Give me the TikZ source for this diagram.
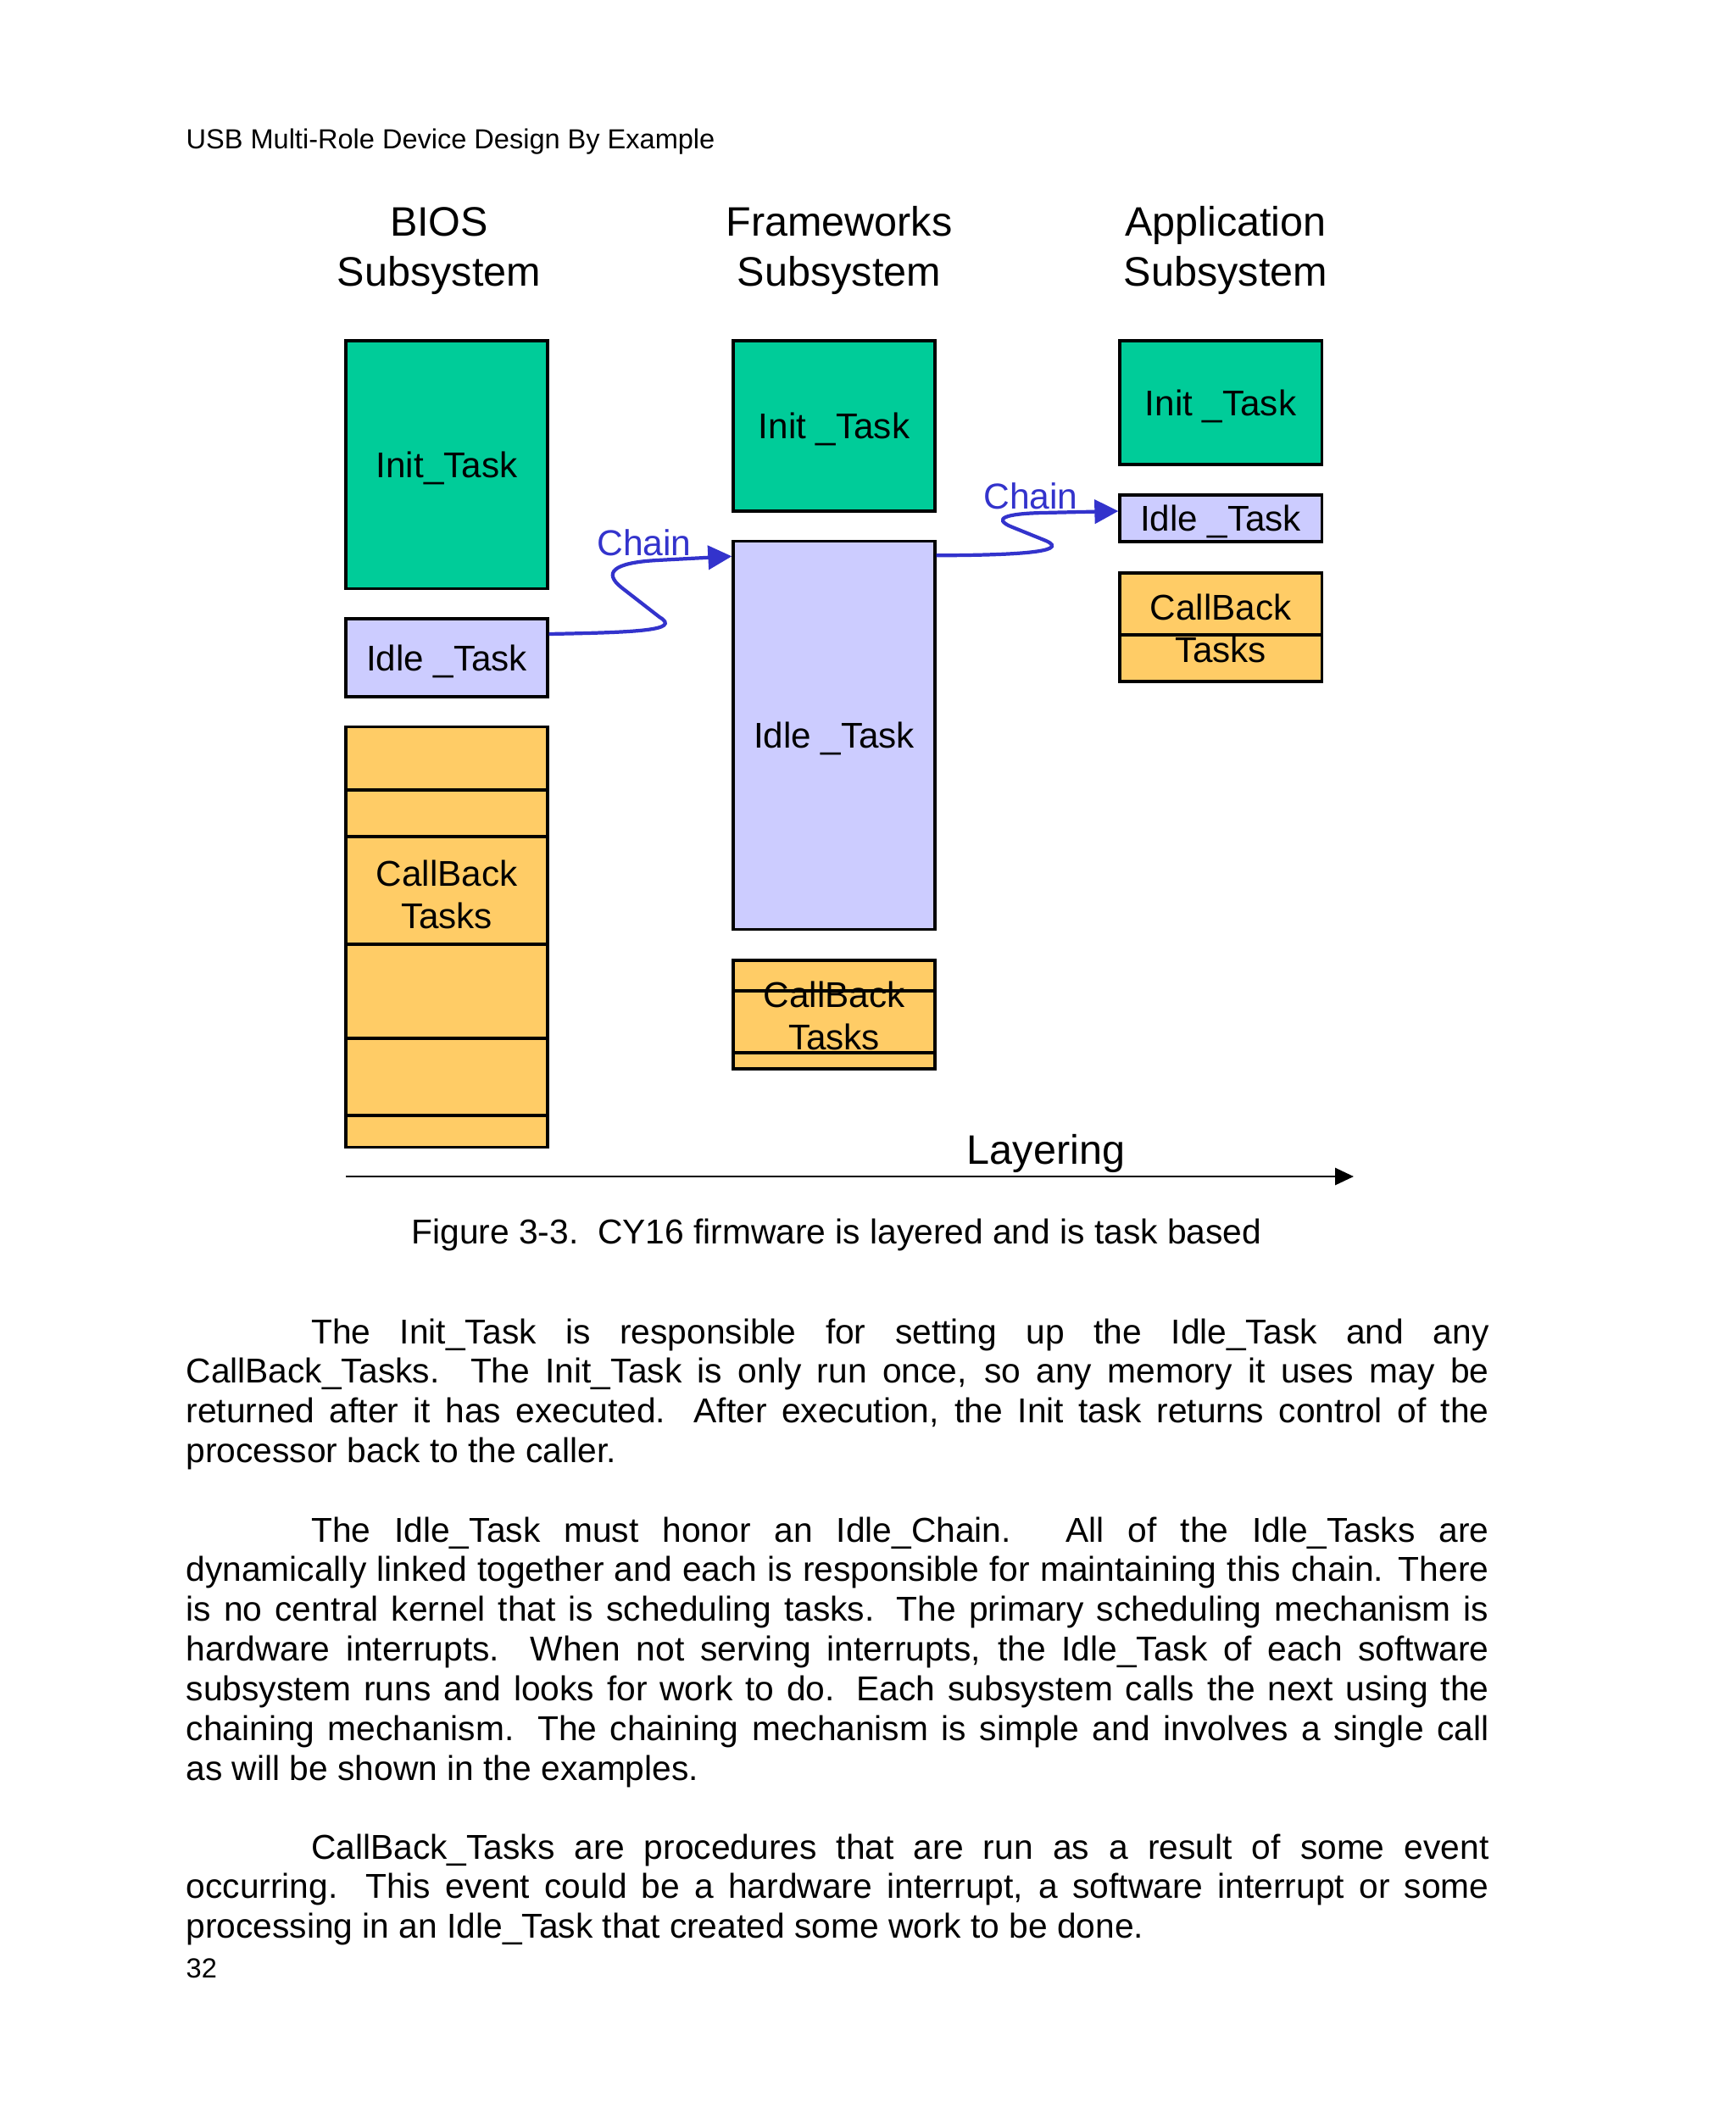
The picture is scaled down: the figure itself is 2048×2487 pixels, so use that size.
\documentclass[tikz,border=0pt]{standalone}
\usepackage{fontspec}
\setmainfont{Liberation Sans}
\usetikzlibrary{positioning,calc,arrows.meta}
\definecolor{InitGreen}{RGB}{0,204,153}
\definecolor{IdleBlue}{RGB}{204,204,255}
\definecolor{CBYellow}{RGB}{255,204,102}
\definecolor{ChainBlue}{RGB}{51,51,204}
\tolerance=10000
\hyphenpenalty=10000
\tikzset{
    taskbox/.style={rectangle, draw=black, line width=0.9pt, inner sep=0pt, minimum width=2.38cm, text depth=0pt, align=center, font=\fontsize{12}{14.2}\selectfont},
    initbox/.style={taskbox, fill=InitGreen},
    idlebox/.style={taskbox, fill=IdleBlue},
    cbbox/.style={taskbox, fill=CBYellow},
    cblabel/.style={align=center, inner sep=0pt, font=\fontsize{12}{14.2}\selectfont},
    subtitle/.style={anchor=base, align=center, inner sep=0pt, font=\fontsize{13.8}{16.5}\selectfont},
    chainarrow/.style={draw=ChainBlue, line width=1.2pt, -{Triangle[length=0.28cm,width=0.28cm]}},
    chainlabel/.style={anchor=base, inner sep=0pt, text=ChainBlue, font=\fontsize{12.1}{14}\selectfont},
    bodytext/.style={anchor=base west, inner sep=0pt, text width=15.36cm, align=justify,
        font=\fontsize{11.58}{13.32}\selectfont}
}

\begin{document}
\begin{tikzpicture}[x=0.01cm, y=-0.01cm]
    \useasboundingbox (0,0) rectangle (2048,2487);
    \fill[white] (0,0) rectangle (2048,2487);

    % page header
    \node[anchor=base west, inner sep=0pt, font=\fontsize{9.25}{11}\selectfont] (header) at (219,175) {USB Multi-Role Device Design By Example};

    % column titles
    \node[subtitle] (tbios) at (518,337) {BIOS\\Subsystem};
    \node[subtitle] (tframe) at (990,337) {Frameworks\\Subsystem};
    \node[subtitle] (tappl) at (1446,337) {Application\\Subsystem};

    % BIOS subsystem
    \node[initbox, minimum height=2.92cm] (binit) at (527,548) {Init\_Task};
    \node[idlebox, minimum height=0.92cm] (bidle) at (527,776) {Idle \_Task};
    \node[cbbox, minimum height=4.95cm] (bcb) at (527,1105.5) {};
    \foreach \yy in {932,987,1114,1225,1316}
        \draw[line width=0.9pt] (bcb.west |- 0,\yy) -- (bcb.east |- 0,\yy);
    \node[cblabel] (bcbtxt) at (527,1055) {CallBack\\Tasks};

    % Frameworks subsystem
    \node[initbox, minimum height=2.01cm] (finit) at (984,502.5) {Init \_Task};
    \node[idlebox, minimum height=4.57cm] (fidle) at (984,867.5) {Idle \_Task};
    \node[cbbox, minimum height=1.28cm] (fcb) at (984,1197) {};
    \foreach \yy in {1169,1242}
        \draw[line width=0.9pt] (fcb.west |- 0,\yy) -- (fcb.east |- 0,\yy);
    \node[cblabel] (fcbtxt) at (984,1198) {CallBack\\Tasks};

    % Application subsystem
    \node[initbox, minimum height=1.46cm] (ainit) at (1440,475) {Init \_Task};
    \node[idlebox, minimum height=0.55cm] (aidle) at (1440,611.5) {Idle \_Task};
    \node[cbbox, minimum height=1.28cm] (acb) at (1440,740) {};
    \draw[line width=0.9pt] (acb.west |- 0,749) -- (acb.east |- 0,749);
    \node[cblabel] (acbtxt) at (1440,741) {CallBack\\Tasks};

    % chains
    \draw[chainarrow] ([yshift=0.28cm]bidle.east) .. controls (750,746) and (805,744) .. (778,728)
        -- (733,693) .. controls (712,676) and (722,664) .. (775,661) -- ([yshift=-0.19cm]fidle.north west);
    \node[chainlabel] (chain1) at (760,655) {Chain};
    \draw[chainarrow] ([yshift=-0.18cm]fidle.north east) .. controls (1190,655) and (1265,652) .. (1234,638)
        -- (1192,621) .. controls (1172,612) and (1185,606) .. (1230,605) -- ([yshift=0.085cm]aidle.west);
    \node[chainlabel] (chain2) at (1216,600) {Chain};

    % layering axis
    \coordinate (axstart) at (408,1388);
    \coordinate (axend) at (1597,1388);
    \draw[line width=0.8pt, -{Triangle[length=0.22cm,width=0.2cm]}] (axstart) -- (axend);
    \node[anchor=base, inner sep=0pt, font=\fontsize{13.8}{16}\selectfont] (layering) at (1234,1373) {Layering};

    % caption
    \node[anchor=base, inner sep=0pt, font=\fontsize{11.58}{13.32}\selectfont] (caption) at (987,1467) {Figure 3-3.\ \ CY16 firmware is layered and is task based};

    % body text
    \node[bodytext] (para1) at (219,1585) {\hspace*{1.475cm}The Init\_Task is responsible for setting up the Idle\_Task and any\linebreak
        CallBack\_Tasks. The Init\_Task is only run once, so any memory it uses may be\linebreak
        returned after it has executed. After execution, the Init task returns control of the\linebreak
        processor back to the caller.};
    \node[bodytext] (para2) at (219,1819) {\hspace*{1.475cm}The Idle\_Task must honor an Idle\_Chain. All of the Idle\_Tasks are\linebreak
        dynamically linked together and each is responsible for maintaining this chain. There\linebreak
        is no central kernel that is scheduling tasks. The primary scheduling mechanism is\linebreak
        hardware interrupts. When not serving interrupts, the Idle\_Task of each software\linebreak
        subsystem runs and looks for work to do. Each subsystem calls the next using the\linebreak
        chaining mechanism. The chaining mechanism is simple and involves a single call\linebreak
        as will be shown in the examples.};
    \node[bodytext] (para3) at (219,2193) {\hspace*{1.475cm}CallBack\_Tasks are procedures that are run as a result of some event\linebreak
        occurring. This event could be a hardware interrupt, a software interrupt or some\linebreak
        processing in an Idle\_Task that created some work to be done.};

    % page number
    \node[anchor=base west, inner sep=0pt, font=\fontsize{9.25}{11}\selectfont] (pagenum) at (219,2333) {32};
\end{tikzpicture}
\end{document}
